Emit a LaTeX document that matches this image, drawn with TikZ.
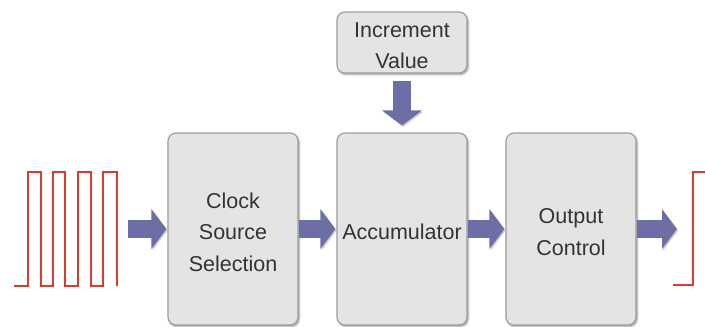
\documentclass[tikz,border=0pt]{standalone}
\usepackage{fontspec}
\setmainfont{Liberation Sans}
\usetikzlibrary{arrows.meta,shadows.blur}

\definecolor{boxfill}{HTML}{E4E4E4}
\definecolor{boxline}{HTML}{9C9C9C}
\definecolor{flow}{HTML}{6E6EA6}
\definecolor{signal}{HTML}{DC3A2E}
\definecolor{label}{HTML}{333333}

\tikzset{
  block/.style={draw=boxline, line width=1.1pt, fill=boxfill, rounded corners=8pt,
    minimum width=130pt,
    blur shadow={shadow xshift=1.2pt, shadow yshift=-1.5pt, shadow blur radius=2pt, shadow opacity=45}},
  blocktext/.style={text=label, align=center, yshift=-3pt, inner sep=0pt,
    font=\fontsize{21.5}{31.5}\selectfont},
  flowarrow/.style={line width=18pt, draw=flow,
    -{Triangle[length=15pt 0, width=39pt 0]},
    preaction={draw=black!55, opacity=0.35, transform canvas={shift={(1.2pt,-1.5pt)}}}},
  wave/.style={draw=signal, line width=1.6pt}
}

\begin{document}
\begin{tikzpicture}[x=1pt, y=-1pt]
  \useasboundingbox (0,0) rectangle (705,327);

  % processing blocks
  \node[block, minimum height=192pt,
    label={[blocktext]center:Clock\\Source\\Selection}] (clk) at (233,229) {};
  \node[block, minimum height=192pt,
    label={[blocktext]center:Accumulator}] (acc) at (402,229) {};
  \node[block, minimum height=192pt,
    label={[blocktext]center:Output\\Control}] (out) at (571,229) {};
  \node[block, minimum height=61pt,
    label={[blocktext]center:Increment\\Value}] (inc) at (402,42.5) {};

  % free ends of the input and output arrows
  \coordinate (inpt) at (128,229);
  \coordinate (outpt) at (677,229);

  % data flow arrows
  \draw[flowarrow] (inpt) -- ([xshift=-1pt]clk.west);
  \draw[flowarrow] (clk.east) -- ([xshift=-1pt]acc.west);
  \draw[flowarrow] (acc.east) -- ([xshift=-1pt]out.west);
  \draw[flowarrow] (out.east) -- (outpt);
  \draw[flowarrow] ([yshift=-7pt]inc.south) -- ([yshift=7pt]acc.north);

  % input clock waveform
  \draw[wave] (14,286) -- (28,286) -- (28,172) -- (41,172) -- (41,286) -- (53,286)
    -- (53,172) -- (65,172) -- (65,286) -- (78,286) -- (78,172) -- (91,172)
    -- (91,286) -- (103,286) -- (103,172) -- (117,172) -- (117,286);

  % output edge
  \draw[wave] (673,285) -- (693,285) -- (693,172) -- (705,172);
\end{tikzpicture}
\end{document}
